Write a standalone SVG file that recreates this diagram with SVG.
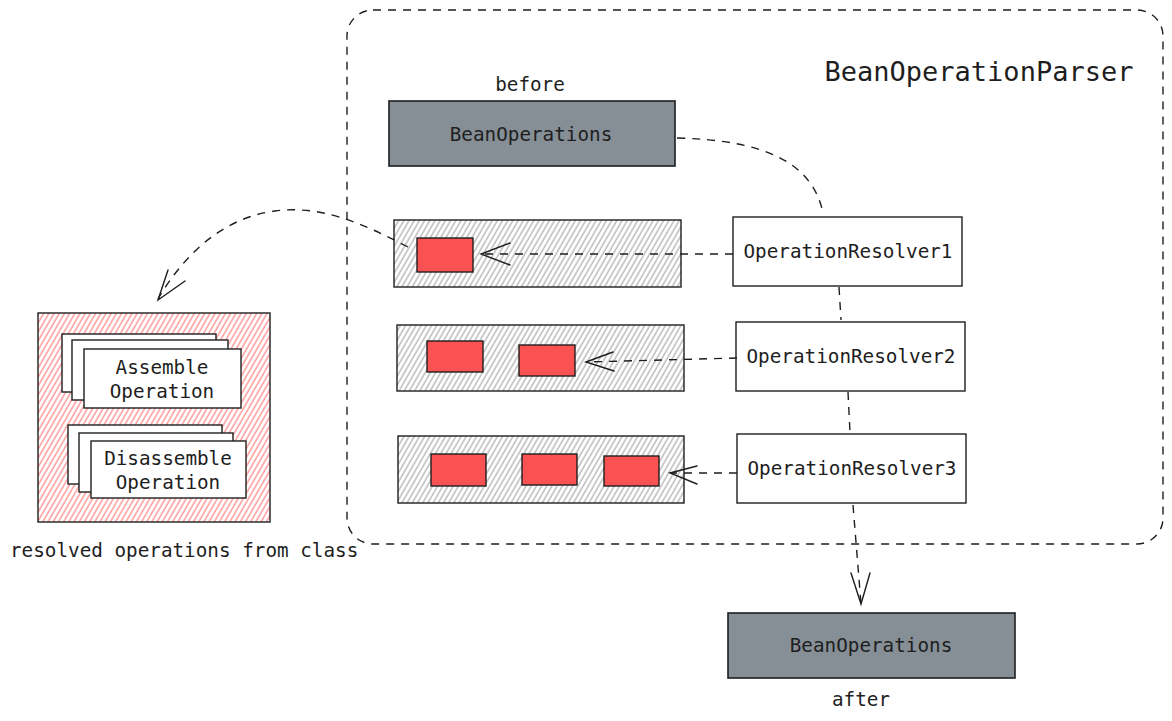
<svg xmlns="http://www.w3.org/2000/svg" width="1172" height="721" viewBox="0 0 1172 721">
<style>
  text { font-family: "DejaVu Sans Mono", "Liberation Mono", monospace; fill: #1e1e1e; }
  .t { font-size: 19.3px; }
  .c { text-anchor: middle; }
  .box { fill: #ffffff; stroke: #1e1e1e; stroke-width: 1.4; }
  .dark { fill: #868e96; stroke: #1e1e1e; stroke-width: 1.6; }
  .gray { fill: url(#hatchGray); stroke: #1e1e1e; stroke-width: 1.4; }
  .red { fill: #fa5252; stroke: #1e1e1e; stroke-width: 1.4; }
  .redh { fill: url(#hatchRed); stroke: #1e1e1e; stroke-width: 1.4; }
  .dash { fill: none; stroke: #1e1e1e; stroke-width: 1.4; stroke-dasharray: 8 7; }
  .head { fill: none; stroke: #1e1e1e; stroke-width: 1.4; stroke-linecap: round; }
</style>
<defs>
  <pattern id="hatchGray" patternUnits="userSpaceOnUse" width="4.5" height="4.5" patternTransform="rotate(30)">
    <rect width="4.5" height="4.5" fill="#ffffff"/>
    <line x1="1" y1="0" x2="1" y2="4.5" stroke="#a5a5a5" stroke-width="1.1"/>
  </pattern>
  <pattern id="hatchRed" patternUnits="userSpaceOnUse" width="4.5" height="4.5" patternTransform="rotate(30)">
    <rect width="4.5" height="4.5" fill="#ffffff"/>
    <line x1="1" y1="0" x2="1" y2="4.5" stroke="#f77" stroke-width="1.1"/>
  </pattern>
</defs>

<g id="container">
  <rect x="347" y="10" width="816" height="534" rx="26" class="dash"/>
  <text x="979" y="81" class="c" font-size="27">BeanOperationParser</text>
</g>

<g id="beanops-before">
  <text x="530" y="91" class="t c">before</text>
  <rect x="389" y="101" width="286" height="65" class="dark"/>
  <text x="531" y="141" class="t c">BeanOperations</text>
</g>

<g id="row1">
  <rect x="394" y="220" width="287" height="67" class="gray"/>
  <rect x="417" y="238" width="56" height="34" class="red"/>
</g>
<g id="row2">
  <rect x="397" y="325" width="287" height="66" class="gray"/>
  <rect x="427" y="341" width="56" height="31" class="red"/>
  <rect x="519" y="345" width="56" height="31" class="red"/>
</g>
<g id="row3">
  <rect x="398" y="436" width="286" height="67" class="gray"/>
  <rect x="431" y="454" width="55" height="32" class="red"/>
  <rect x="522" y="454" width="55" height="31" class="red"/>
  <rect x="604" y="456" width="55" height="30" class="red"/>
</g>

<g id="resolver1">
  <rect x="733" y="217" width="229" height="69" class="box"/>
  <text x="848" y="258" class="t c">OperationResolver1</text>
</g>
<g id="resolver2">
  <rect x="736" y="322" width="229" height="69" class="box"/>
  <text x="851" y="363" class="t c">OperationResolver2</text>
</g>
<g id="resolver3">
  <rect x="737" y="434" width="229" height="69" class="box"/>
  <text x="852" y="475" class="t c">OperationResolver3</text>
</g>

<g id="beanops-after">
  <rect x="728" y="613" width="287" height="65" class="dark"/>
  <text x="871" y="652" class="t c">BeanOperations</text>
  <text x="861" y="706" class="t c">after</text>
</g>

<g id="resolved-ops">
  <rect x="38" y="313" width="232" height="209" class="redh"/>
  <rect x="62" y="334" width="154" height="58" class="box"/>
  <rect x="72" y="340" width="156" height="60" class="box"/>
  <rect x="84" y="349" width="157" height="59" class="box"/>
  <text x="162" y="374" class="t c">Assemble</text>
  <text x="162" y="398" class="t c">Operation</text>
  <rect x="68" y="425" width="154" height="59" class="box"/>
  <rect x="79" y="433" width="154" height="59" class="box"/>
  <rect x="91" y="441" width="155" height="57" class="box"/>
  <text x="168" y="465" class="t c">Disassemble</text>
  <text x="168" y="489" class="t c">Operation</text>
  <text x="10" y="557" class="t">resolved operations from class</text>
</g>

<g id="connectors">
  <path d="M677,138 C760,140 812,160 823,213" class="dash"/>
  <path d="M733,254 L481,254" class="dash"/>
  <path d="M510,243 L481,254 L510,265" class="head"/>
  <path d="M737,358 L586,362" class="dash"/>
  <path d="M613,352 L586,362 L614,371" class="head"/>
  <path d="M737,473 L670,473" class="dash"/>
  <path d="M697,466 L670,473 L697,484" class="head"/>
  <path d="M839,287 L841,320" class="dash"/>
  <path d="M848,392 L850,432" class="dash"/>
  <path d="M853,505 L861,604" class="dash"/>
  <path d="M851,573 L861,604 L870,573" class="head"/>
  <path d="M408,247 C360,222 320,205 275,211 C220,218 182,258 158,299" class="dash"/>
  <path d="M168,270 L158,300 L185,281" class="head"/>
</g>
</svg>
